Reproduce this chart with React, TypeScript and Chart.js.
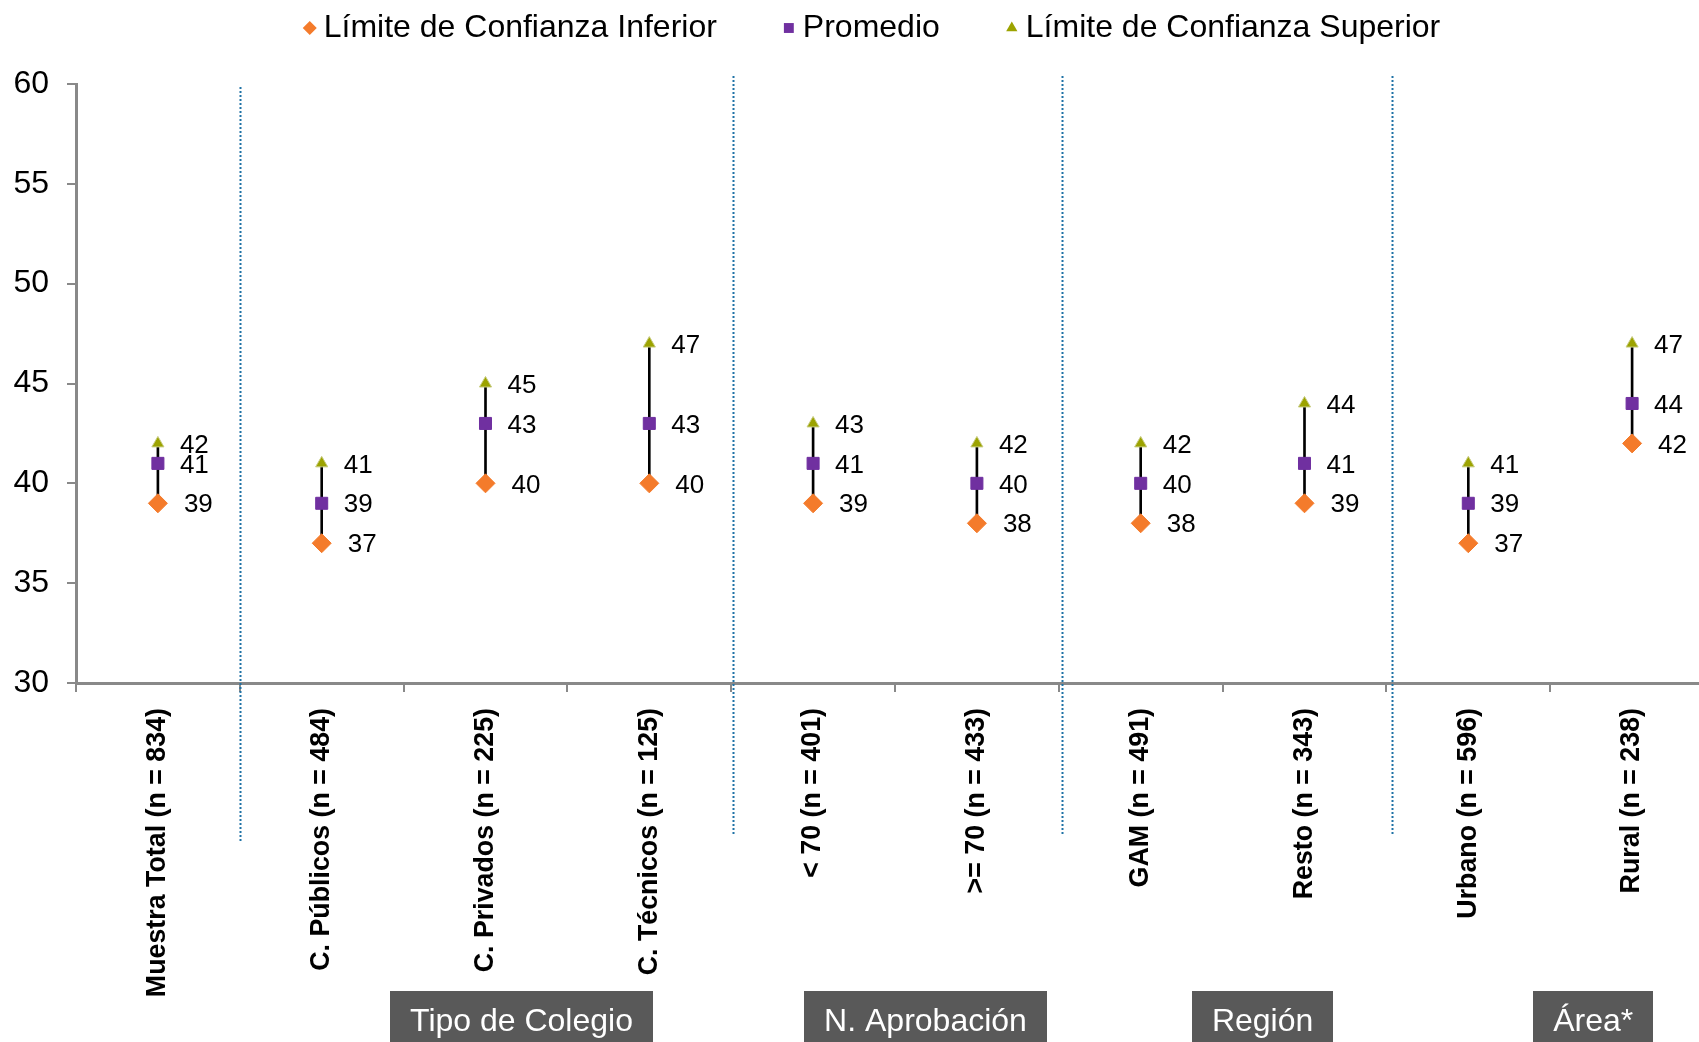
import React, { useEffect, useRef } from "react";
import { Chart, registerables } from "chart.js";

Chart.register(...registerables);

// ---------- data ----------
const categories = [
  "Muestra Total (n = 834)",
  "C. Públicos (n = 484)",
  "C. Privados (n = 225)",
  "C. Técnicos (n = 125)",
  "< 70 (n = 401)",
  ">= 70 (n = 433)",
  "GAM (n = 491)",
  "Resto (n = 343)",
  "Urbano (n = 596)",
  "Rural (n = 238)",
];
const lowerValues = [39, 37, 40, 40, 39, 38, 38, 39, 37, 42];
const meanValues = [41, 39, 43, 43, 41, 40, 40, 41, 39, 44];
const upperValues = [42, 41, 45, 47, 43, 42, 42, 44, 41, 47];
const seriesNames = ["Límite de Confianza Inferior", "Promedio", "Límite de Confianza Superior"];
const yTicks = [30, 35, 40, 45, 50, 55, 60];
const groupNames = ["Tipo de Colegio", "N. Aprobación", "Región", "Área*"];
const groupStart = [1, 4, 6, 8];
const groupEnd = [3, 5, 7, 9];
const separatorsAfter = [0, 3, 5, 7];

// ---------- styles ----------
const W = 1740;
const H = 1042;
const FONT = "'Liberation Sans', Arial, sans-serif";
const ORANGE = "#F47B2B";
const PURPLE = "#7030A0";
const OLIVE = "#9CA300";
const AXIS = "#898989";
const SEP_SHIFT = [0, 2, 3, 6];
const GROUP_SHIFT = [36, 30.5, 40, 43];

function drawShape(ctx: CanvasRenderingContext2D, style: string, x: number, y: number, r: number, color: string) {
  ctx.save();
  ctx.fillStyle = color;
  ctx.beginPath();
  if (style === "rectRot") {
    ctx.moveTo(x, y - r);
    ctx.lineTo(x + r, y);
    ctx.lineTo(x, y + r);
    ctx.lineTo(x - r, y);
  } else if (style === "rect") {
    const s = r * Math.SQRT1_2;
    ctx.rect(x - s, y - s, 2 * s, 2 * s);
  } else {
    ctx.moveTo(x, y - r);
    ctx.lineTo(x + r * 0.866, y + r * 0.5);
    ctx.lineTo(x - r * 0.866, y + r * 0.5);
  }
  ctx.closePath();
  ctx.fill();
  ctx.restore();
}

const overlayPlugin = {
  id: "overlay",
  beforeDatasetsDraw(chart: any) {
    const ctx = chart.ctx as CanvasRenderingContext2D;
    const x = chart.scales.x;
    ctx.save();
    ctx.strokeStyle = "#1F72A6";
    ctx.lineWidth = 2;
    ctx.setLineDash([2, 2]);
    separatorsAfter.forEach((idx, k) => {
      const px = Math.round((x.getPixelForValue(idx) + x.getPixelForValue(idx + 1)) / 2 + SEP_SHIFT[k]) + 0.5;
      const top = k === 0 ? 87 : 76;
      const bottom = k === 0 ? 842 : 834;
      ctx.beginPath();
      ctx.moveTo(px, top);
      ctx.lineTo(px, bottom);
      ctx.stroke();
    });
    ctx.restore();
  },
  afterDatasetsDraw(chart: any) {
    const ctx = chart.ctx as CanvasRenderingContext2D;
    ctx.save();
    ctx.font = `26px ${FONT}`;
    ctx.fillStyle = "#000";
    ctx.textAlign = "left";
    ctx.textBaseline = "middle";
    chart.data.datasets.forEach((ds: any, di: number) => {
      if (ds.type !== "line") return;
      const meta = chart.getDatasetMeta(di);
      const off = ds.pointStyle === "rectRot" ? 26 : 22;
      meta.data.forEach((el: any, i: number) => {
        ctx.fillText(String(ds.data[i]), el.x + off, el.y + 2);
      });
    });
    ctx.restore();
  },
  afterDraw(chart: any) {
    const ctx = chart.ctx as CanvasRenderingContext2D;
    // legend
    ctx.save();
    ctx.font = `32px ${FONT}`;
    ctx.textBaseline = "middle";
    ctx.textAlign = "left";
    const items = chart.data.datasets.filter((d: any) => d.type === "line");
    const gap = 66;
    const widths = items.map((d: any) => 20 + ctx.measureText(d.label).width);
    const total = widths.reduce((a: number, b: number) => a + b, 0) + gap * (items.length - 1);
    let cx = 872 - total / 2;
    const sizes: Record<string, number> = { rectRot: 7, rect: 7, triangle: 6.5 };
    items.forEach((d: any, i: number) => {
      drawShape(ctx, d.pointStyle, cx + 6, 28, sizes[d.pointStyle], d.pointBackgroundColor);
      ctx.fillStyle = "#000";
      ctx.fillText(d.label, cx + 20, 28);
      cx += widths[i] + gap;
    });
    ctx.restore();

    // group boxes
    const x = chart.scales.x;
    ctx.save();
    ctx.font = `32px ${FONT}`;
    ctx.textAlign = "center";
    ctx.textBaseline = "middle";
    groupNames.forEach((name, g) => {
      const c = (x.getPixelForValue(groupStart[g]) + x.getPixelForValue(groupEnd[g])) / 2 + GROUP_SHIFT[g];
      const tw = ctx.measureText(name).width;
      const bw = tw + 40;
      ctx.fillStyle = "#595959";
      ctx.fillRect(Math.round(c - bw / 2), 991, Math.round(bw), H - 991);
      ctx.fillStyle = "#fff";
      ctx.fillText(name, c, 1022);
    });
    ctx.restore();
  },
};

export default function App() {
  const ref = useRef<HTMLCanvasElement | null>(null);

  useEffect(() => {
    if (!ref.current) return;
    const chart = new Chart(ref.current, {
      data: {
        labels: categories,
        datasets: [
          {
            type: "line",
            label: seriesNames[0],
            data: lowerValues,
            showLine: false,
            pointStyle: "rectRot",
            pointRadius: 9.5,
            pointBackgroundColor: ORANGE,
            pointBorderColor: ORANGE,
            pointBorderWidth: 1,
            order: 3,
          } as any,
          {
            type: "line",
            label: seriesNames[1],
            data: meanValues,
            showLine: false,
            pointStyle: "rect",
            pointRadius: 8.5,
            pointBackgroundColor: PURPLE,
            pointBorderColor: PURPLE,
            pointBorderWidth: 1,
            order: 2,
          } as any,
          {
            type: "line",
            label: seriesNames[2],
            data: upperValues,
            showLine: false,
            pointStyle: "triangle",
            pointRadius: 7,
            pointBackgroundColor: OLIVE,
            pointBorderColor: "#C8CC80",
            pointBorderWidth: 1,
            order: 1,
          } as any,
          {
            type: "bar",
            label: "range",
            data: lowerValues.map((l, i) => [l, upperValues[i]]),
            backgroundColor: "#000",
            barThickness: 2,
            order: 10,
          } as any,
        ],
      },
      options: {
        responsive: false,
        animation: false,
        devicePixelRatio: 1,
        layout: { padding: { top: 84, right: W - 1714, left: 0, bottom: 0 } },
        plugins: {
          legend: { display: false },
          tooltip: { enabled: false },
        },
        scales: {
          x: {
            type: "category",
            offset: true,
            grid: {
              offset: true,
              drawOnChartArea: false,
              drawTicks: true,
              tickLength: 9,
              color: AXIS,
              lineWidth: 2,
            },
            border: { color: AXIS, width: 3 },
            ticks: {
              autoSkip: false,
              maxRotation: 90,
              minRotation: 90,
              padding: 16,
              color: "#000",
              font: { family: FONT, size: 26.8, weight: "bold" },
            },
            afterFit: (scale: any) => {
              scale.height = H - 683;
            },
          },
          y: {
            min: yTicks[0],
            max: yTicks[yTicks.length - 1],
            ticks: {
              stepSize: yTicks[1] - yTicks[0],
              padding: 18,
              color: "#000",
              font: { family: FONT, size: 32 },
            },
            grid: {
              drawOnChartArea: false,
              drawTicks: true,
              tickLength: 9,
              color: AXIS,
              lineWidth: 2,
            },
            border: { color: AXIS, width: 3 },
            afterFit: (scale: any) => {
              scale.width = 76;
            },
          },
        },
      } as any,
      plugins: [overlayPlugin],
    });
    return () => chart.destroy();
  }, []);

  return (
    <div
      style={{
        position: "fixed",
        left: 0,
        top: 0,
        width: "1699px",
        height: "1042px",
        overflow: "hidden",
        background: "#fff",
      }}
    >
      <canvas ref={ref} width={W} height={H} style={{ width: W + "px", height: H + "px", display: "block" }} />
    </div>
  );
}
